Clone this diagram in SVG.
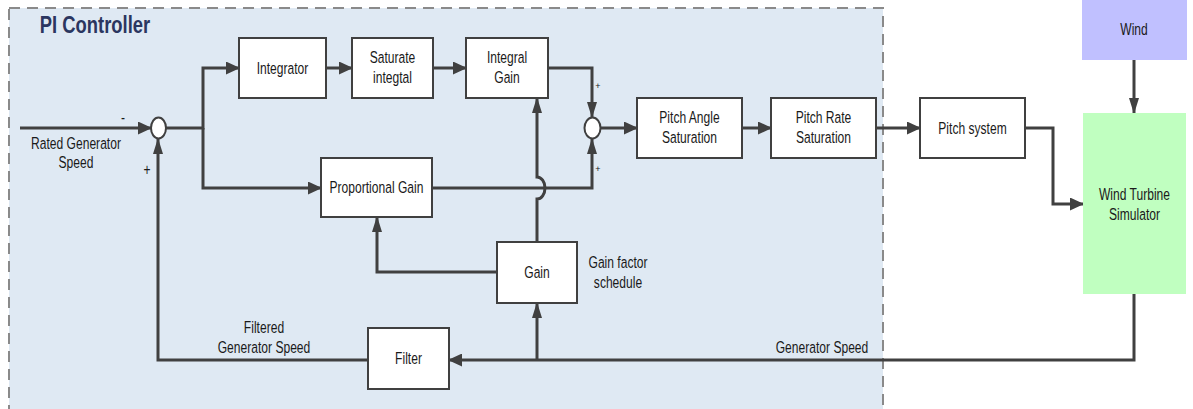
<svg xmlns="http://www.w3.org/2000/svg" width="1193" height="409" viewBox="0 0 1193 409">
<style>
text { font-family: "Liberation Sans", Arial, sans-serif; fill: #1a1a1a; text-anchor: middle; transform-box: fill-box; transform-origin: center; }
.t { font-size: 17px; transform: scaleX(0.71); }
.title { font-size: 23px; font-weight: bold; fill: #2b3660; transform: scaleX(0.8); }
.s { font-size: 9px; }
.box { fill: #ffffff; stroke: #404040; stroke-width: 2; }
.line { fill: none; stroke: #404040; stroke-width: 3; }
</style>
<defs>
<marker id="ah" markerWidth="14" markerHeight="13" refX="13" refY="6.5" orient="auto" markerUnits="userSpaceOnUse"><path d="M0,0 L14,6.5 L0,13 z" fill="#404040"/></marker>
<marker id="av" markerWidth="16" markerHeight="10" refX="15" refY="5" orient="auto" markerUnits="userSpaceOnUse"><path d="M0,0 L16,5 L0,10 z" fill="#404040"/></marker>
</defs>
<g id="pi-controller">
<rect x="9" y="8" width="874" height="410" fill="#dfe9f3" stroke="#8a8a8a" stroke-width="2" stroke-dasharray="11,7"/>
<text class="title" x="95" y="33">PI Controller</text>
</g>
<g id="connectors">
<path class="line" d="M20,128 H151" marker-end="url(#ah)"/>
<path class="line" d="M166,128 H203 V68 H239" marker-end="url(#ah)"/>
<path class="line" d="M203,128 V188 H321" marker-end="url(#ah)"/>
<path class="line" d="M326,68 H352" marker-end="url(#ah)"/>
<path class="line" d="M433,68 H466" marker-end="url(#ah)"/>
<path class="line" d="M548,68 H592 V117" marker-end="url(#av)"/>
<path class="line" d="M432,188 H592 V139" marker-end="url(#av)"/>
<path class="line" d="M601,128 H637" marker-end="url(#ah)"/>
<path class="line" d="M742,128 H771" marker-end="url(#ah)"/>
<path class="line" d="M876,128 H920" marker-end="url(#ah)"/>
<path class="line" d="M1025,128 H1053 V204 H1083" marker-end="url(#ah)"/>
<path class="line" d="M1134,60 V113" marker-end="url(#av)"/>
<path class="line" d="M1134,294 V360 H449" marker-end="url(#ah)"/>
<path class="line" d="M537,360 V303" marker-end="url(#av)"/>
<path class="line" d="M537,242 V199 A8,11 0 0,0 537,177 V98" marker-end="url(#av)"/>
<path class="line" d="M497,272 H377 V217" marker-end="url(#av)"/>
<path class="line" d="M368,360 H158 V139" marker-end="url(#av)"/>
</g>
<g id="sum1"><ellipse cx="158.5" cy="128" rx="7.5" ry="10.5" fill="#fff" stroke="#404040" stroke-width="2"/></g>
<g id="sum2"><ellipse cx="592.5" cy="128" rx="8" ry="10.5" fill="#fff" stroke="#404040" stroke-width="2"/></g>
<g id="integrator"><rect class="box" x="239" y="38" width="87" height="60"/><text class="t" x="282.5" y="74">Integrator</text></g>
<g id="saturate"><rect class="box" x="352" y="38" width="81" height="60"/><text class="t" x="392.5" y="63">Saturate</text><text class="t" x="392.5" y="83">integtal</text></g>
<g id="integral-gain"><rect class="box" x="466" y="38" width="82" height="60"/><text class="t" x="507" y="63">Integral</text><text class="t" x="507" y="83">Gain</text></g>
<g id="pitch-angle"><rect class="box" x="637" y="98" width="105" height="60"/><text class="t" x="689.5" y="123">Pitch Angle</text><text class="t" x="689.5" y="143">Saturation</text></g>
<g id="pitch-rate"><rect class="box" x="771" y="98" width="105" height="60"/><text class="t" x="823.5" y="123">Pitch Rate</text><text class="t" x="823.5" y="143">Saturation</text></g>
<g id="pitch-system"><rect class="box" x="920" y="98" width="105" height="60"/><text class="t" x="972.5" y="134">Pitch system</text></g>
<g id="wind"><rect x="1082" y="-2" width="105" height="62" fill="#c0c0ff"/><text class="t" x="1134" y="35">Wind</text></g>
<g id="simulator"><rect x="1083" y="113" width="103" height="181" fill="#c0ffc0"/><text class="t" x="1134.5" y="200">Wind Turbine</text><text class="t" x="1134.5" y="220">Simulator</text></g>
<g id="proportional-gain"><rect class="box" x="321" y="158" width="111" height="59"/><text class="t" x="376.5" y="193">Proportional Gain</text></g>
<g id="gain"><rect class="box" x="497" y="242" width="80" height="61"/><text class="t" x="537" y="278">Gain</text></g>
<g id="filter"><rect class="box" x="368" y="328" width="81" height="61"/><text class="t" x="408.5" y="364">Filter</text></g>
<g id="labels">
<text class="t" x="123" y="123">-</text>
<text class="t" x="147" y="175">+</text>
<text class="t" x="76" y="149">Rated Generator</text>
<text class="t" x="76" y="168">Speed</text>
<text class="s" x="598" y="89">+</text>
<text class="s" x="598" y="172">+</text>
<text class="t" x="618" y="268">Gain factor</text>
<text class="t" x="618" y="288">schedule</text>
<text class="t" x="264" y="333">Filtered</text>
<text class="t" x="264" y="353">Generator Speed</text>
<text class="t" x="822" y="353">Generator Speed</text>
</g>
</svg>
